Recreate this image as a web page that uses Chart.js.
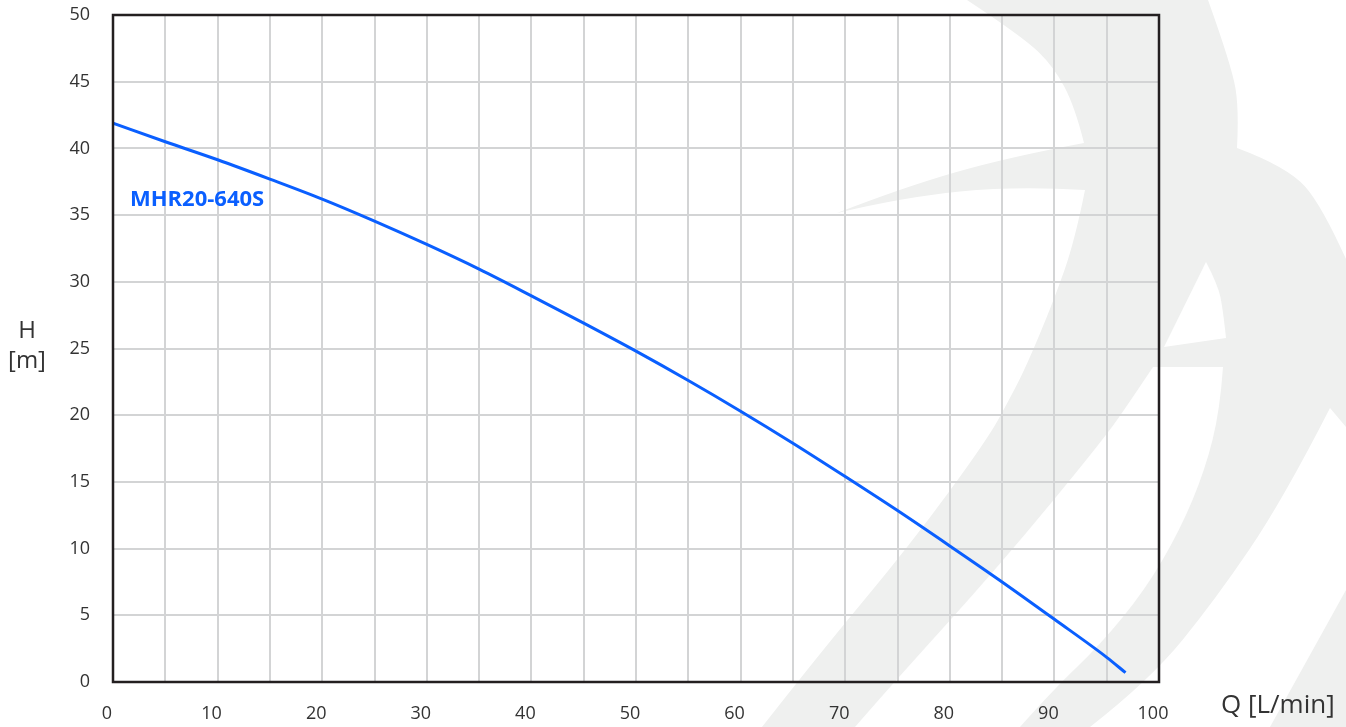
<!DOCTYPE html>
<html>
<head>
<meta charset="utf-8">
<script src="https://cdn.jsdelivr.net/npm/chart.js@4.4.1/dist/chart.umd.min.js"></script>
<style>
    html, body { margin: 0; padding: 0; background: #fff; }
    #wrap { width: 1346px; height: 727px; position: relative; }
</style>
</head>
<body>
<div id="wrap"><canvas id="curvaBomba"></canvas></div>
<script>
// Q [L/min] x H [m]
const vazao = [0, 5, 10, 15, 20, 25, 30, 35, 40, 45, 50, 55, 60, 65, 70, 75, 80, 85, 90, 95, 96.8];
const altura = [41.9, 40.5, 39.15, 37.7, 36.2, 34.55, 32.8, 30.95, 28.95, 26.9, 24.8, 22.6, 20.3, 17.9, 15.4, 12.85, 10.2, 7.5, 4.7, 1.85, 0.7];
const rotulosX = [0, 10, 20, 30, 40, 50, 60, 70, 80, 90, 100];
const rotulosY = [0, 5, 10, 15, 20, 25, 30, 35, 40, 45, 50];
const nomeBomba = 'MHR20-640S';

const AZUL = '#0a5fff';
const CINZA_TEXTO = '#333333';
const MARCA = '#eff0ef';

// smooth path through a chain of points (corners only at chain ends)
function cadeia(ctx, pts, inicio) {
    if (inicio) ctx.moveTo(pts[0][0], pts[0][1]); else ctx.lineTo(pts[0][0], pts[0][1]);
    if (pts.length === 2) { ctx.lineTo(pts[1][0], pts[1][1]); return; }
    for (let i = 1; i < pts.length - 1; i++) {
        const ult = i === pts.length - 2;
        const nx = ult ? pts[i + 1][0] : (pts[i][0] + pts[i + 1][0]) / 2;
        const ny = ult ? pts[i + 1][1] : (pts[i][1] + pts[i + 1][1]) / 2;
        ctx.quadraticCurveTo(pts[i][0], pts[i][1], nx, ny);
    }
}

const marcaDagua = {
    id: 'marcaDagua',
    beforeDraw(chart) {
        const ctx = chart.ctx;
        ctx.save();
        ctx.fillStyle = '#ffffff';
        ctx.fillRect(0, 0, chart.width, chart.height);

        ctx.fillStyle = MARCA;
        ctx.beginPath();
        cadeia(ctx, [[967, 0], [1208, 0]], true);
        cadeia(ctx, [[1208, 0], [1232, 67], [1239, 110], [1237, 148]]);
        cadeia(ctx, [[1237, 148], [1288, 167], [1323, 207], [1350, 268]]);
        cadeia(ctx, [[1350, 268], [1350, 430], [1346, 427]]);
        cadeia(ctx, [[1346, 427], [1330, 408]]);
        cadeia(ctx, [[1330, 408], [1283, 500], [1215, 600], [1150, 680], [1090, 727]]);
        cadeia(ctx, [[1090, 727], [762, 727]]);
        cadeia(ctx, [[762, 727], [820, 653], [910, 545], [987, 440], [1009, 400], [1026, 367], [1054, 300], [1075, 240], [1085, 190]]);
        cadeia(ctx, [[1085, 190], [1016, 186], [904, 197], [837, 213]]);
        cadeia(ctx, [[837, 213], [904, 187], [1009, 157], [1084, 143]]);
        cadeia(ctx, [[1084, 143], [1075, 107], [1054, 67], [1023, 37], [967, 0]]);
        ctx.closePath();
        ctx.fill();

        ctx.beginPath();
        cadeia(ctx, [[1346, 590], [1310, 655], [1270, 727]], true);
        cadeia(ctx, [[1270, 727], [1346, 727]]);
        ctx.closePath();
        ctx.fill();

        ctx.fillStyle = '#ffffff';
        ctx.beginPath();
        cadeia(ctx, [[1206, 262], [1218, 285], [1223, 310], [1226, 338]], true);
        cadeia(ctx, [[1226, 338], [1164, 347]]);
        ctx.closePath();
        ctx.fill();

        ctx.beginPath();
        cadeia(ctx, [[1153, 367], [1223, 367]], true);
        cadeia(ctx, [[1223, 367], [1220, 410], [1205, 470], [1180, 530], [1145, 590], [1100, 645], [1053, 690], [1020, 727]]);
        cadeia(ctx, [[1020, 727], [855, 727]]);
        cadeia(ctx, [[855, 727], [887, 690], [1000, 565], [1103, 440], [1131, 400], [1153, 367]]);
        ctx.closePath();
        ctx.fill();
        ctx.restore();
    },
    afterDraw(chart) {
        const ctx = chart.ctx;
        const a = chart.chartArea;
        ctx.save();
        ctx.strokeStyle = '#231f20';
        ctx.lineWidth = 2.5;
        ctx.strokeRect(a.left, a.top, a.right - a.left, a.bottom - a.top);

        ctx.fillStyle = CINZA_TEXTO;
        ctx.textBaseline = 'middle';
        ctx.textAlign = 'center';
        ctx.font = '24px "Open Sans"';
        ctx.fillText('H', 27, 331);
        ctx.fillText('[m]', 27, 361);
        ctx.textAlign = 'left';
        ctx.font = '26px "Open Sans"';
        ctx.fillText('Q [L/min]', 1221, 706);

        ctx.fillStyle = AZUL;
        ctx.textBaseline = 'alphabetic';
        ctx.font = 'bold 22px "Open Sans"';
        ctx.fillText(nomeBomba, 130, 206);
        ctx.restore();
    }
};

// drop the label overflow padding so the plot box sits where the reference has it
function semFolga(s) {
    s.paddingTop = 0;
    s.paddingBottom = 0;
    s.paddingLeft = 0;
    s.paddingRight = 0;
}

const ctx = document.getElementById('curvaBomba');

new Chart(ctx, {
    type: 'line',
    data: {
        datasets: [{
            label: nomeBomba,
            data: vazao.map((q, i) => ({ x: q, y: altura[i] })),
            borderColor: AZUL,
            borderWidth: 3,
            pointRadius: 0,
            fill: false,
            cubicInterpolationMode: 'monotone'
        }]
    },
    options: {
        responsive: true,
        maintainAspectRatio: false,
        animation: false,
        devicePixelRatio: 1,
        layout: { padding: { left: 0, top: 15, right: 187, bottom: 0 } },
        plugins: {
            legend: { display: false },
            tooltip: { enabled: false }
        },
        scales: {
            x: {
                type: 'linear',
                min: 0,
                max: 100,
                afterFit: s => { s.height = 45; semFolga(s); },
                border: { display: false },
                grid: { color: '#d3d4d5', lineWidth: 2, drawTicks: false },
                ticks: {
                    stepSize: 5,
                    autoSkip: false,
                    maxRotation: 0,
                    padding: 21,
                    labelOffset: -6,
                    color: CINZA_TEXTO,
                    font: { family: '"Open Sans"', size: 18 },
                    callback: v => rotulosX.includes(v) ? String(v) : ''
                }
            },
            y: {
                type: 'linear',
                min: 0,
                max: 50,
                afterFit: s => { s.width = 113; semFolga(s); },
                border: { display: false },
                grid: { color: '#d3d4d5', lineWidth: 2, drawTicks: false },
                ticks: {
                    stepSize: 5,
                    autoSkip: false,
                    padding: 23,
                    color: CINZA_TEXTO,
                    font: { family: '"Open Sans"', size: 18 },
                    callback: v => rotulosY.includes(v) ? String(v) : ''
                }
            }
        }
    },
    plugins: [marcaDagua]
});
</script>
</body>
</html>
